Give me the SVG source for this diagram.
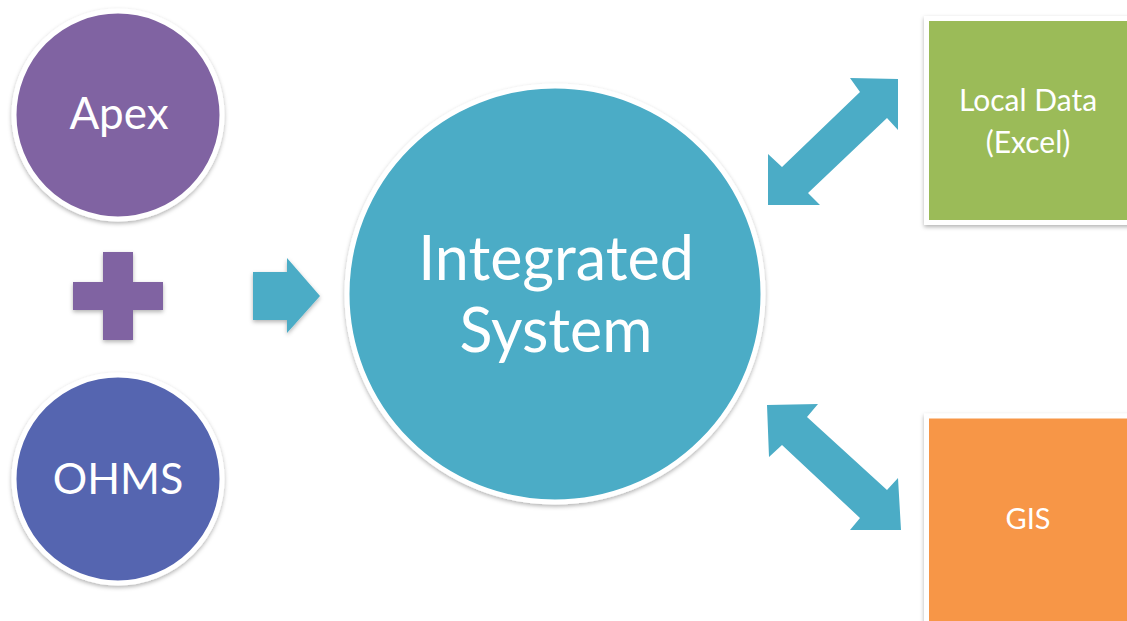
<svg xmlns="http://www.w3.org/2000/svg" width="1127" height="621" viewBox="0 0 1127 621">
<defs>
<filter id="sh" x="-10%" y="-10%" width="120%" height="120%">
<feDropShadow dx="0" dy="2" stdDeviation="2" flood-color="#000" flood-opacity="0.3"/>
</filter>
<style>
.lbl{font-family:Lato,"Open Sans",sans-serif;fill:#fff;text-anchor:middle}
.ring{stroke:#fff;stroke-width:5}
.teal{fill:#4BACC6}
</style>
</defs>
<rect width="1127" height="621" fill="#fff"/>
<g id="apex">
<circle cx="118" cy="115" r="104" fill="#8064A2" class="ring" filter="url(#sh)"/>
<text class="lbl" x="119" y="129" font-size="44">Apex</text>
</g>
<g id="ohms">
<circle cx="118" cy="479" r="104" fill="#5565B0" class="ring" filter="url(#sh)"/>
<text class="lbl" x="118" y="494" font-size="43">OHMS</text>
</g>
<g id="plus">
<path d="M103 252H133V282H163V310H133V340H103V310H73V282H103Z" fill="#8064A2" filter="url(#sh)"/>
</g>
<g id="integrated">
<circle cx="555" cy="294" r="208" class="teal ring" filter="url(#sh)"/>
<text class="lbl" x="556" y="280" font-size="61">Integrated</text>
<text class="lbl" x="556" y="352" font-size="61">System</text>
</g>
<g id="local">
<rect x="926.500" y="18.500" width="210" height="204" fill="#9BBB59" class="ring" filter="url(#sh)"/>
<text class="lbl" x="1028" y="111" font-size="30">Local Data</text>
<text class="lbl" x="1028" y="153" font-size="30">(Excel)</text>
</g>
<g id="gis">
<rect x="926.500" y="416" width="210" height="210" fill="#F79646" class="ring" filter="url(#sh)"/>
<text class="lbl" x="1028" y="529" font-size="29">GIS</text>
</g>
<g id="connectors">
<path class="teal" d="M253 272H287V258L320 296L287 333V320H253Z" filter="url(#sh)"/>
<path class="teal" d="M898 79L898 130L887 118L808 193L820 205L768 205L768 154L782 167L860 92L850 78Z"/>
<path class="teal" d="M767 405L818 404L807 417L887 490L898 478L901 530L850 530L860 518L782 445L769 457Z"/>
</g>
</svg>
